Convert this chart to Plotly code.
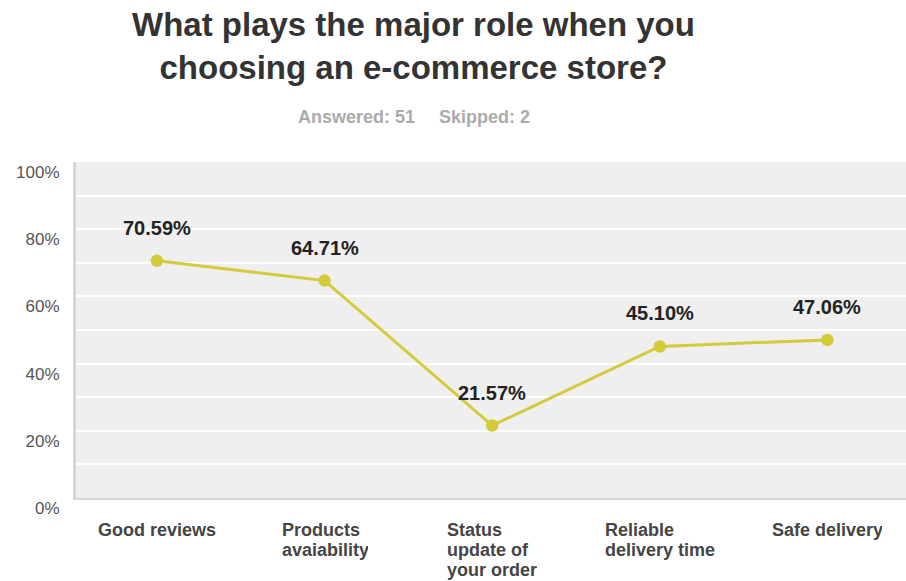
import plotly.graph_objects as go

# Survey results: share of respondents choosing each factor
categories = [
    "Good reviews",
    "Products<br>avaiability",
    "Status<br>update of<br>your order",
    "Reliable<br>delivery time",
    "Safe delivery",
]
percent_values = [70.59, 64.71, 21.57, 45.10, 47.06]
y_tick_values = [0, 20, 40, 60, 80, 100]
y_tick_labels = ["0%", "20%", "40%", "60%", "80%", "100%"]

title_text = "What plays the major role when you<br>choosing an e-commerce store?"
answered_text = "Answered: 51"
skipped_text = "Skipped: 2"

LINE_COLOR = "rgb(211, 203, 58)"
FONT = "Liberation Sans, Arial, Helvetica, sans-serif"

# text-box widths (px) for the category label blocks, so that
# the lines of each block share a common left edge
LABEL_BOX_WIDTH = [118, 86, 90, 110, 110]
LABEL_SIZE = 18
LABEL_PITCH = 20

x_idx = list(range(len(categories)))

fig = go.Figure()
fig.add_trace(
    go.Scatter(
        x=x_idx,
        y=percent_values,
        mode="lines+markers",
        line=dict(color=LINE_COLOR, width=3),
        marker=dict(color=LINE_COLOR, size=12.5),
        hoverinfo="skip",
        showlegend=False,
    )
)

annotations = []

# title
annotations.append(
    dict(
        x=(413 - 76) / 830, y=1.345, xref="paper", yref="paper",
        text=f"<b>{title_text}</b>", showarrow=False,
        xanchor="center", yanchor="middle", align="center",
        font=dict(family=FONT, size=33, color="#333333"),
    )
)

# value labels above each point
for xi, v in zip(x_idx, percent_values):
    annotations.append(
        dict(
            x=xi, y=v, xref="x", yref="y",
            text=f"<b>{v:.2f}%</b>",
            showarrow=False,
            yanchor="middle",
            yshift=33,
            font=dict(family=FONT, size=20, color="#222222"),
        )
    )

# category labels: one annotation per line, left-aligned in a box
# centred under the category
for xi, cat, w in zip(x_idx, categories, LABEL_BOX_WIDTH):
    for k, ln in enumerate(cat.split("<br>")):
        annotations.append(
            dict(
                x=xi, y=0, xref="x", yref="paper",
                text=f"<b>{ln}</b>",
                showarrow=False,
                xanchor="center", yanchor="top",
                align="left", width=w,
                yshift=-20 - k * LABEL_PITCH,
                font=dict(family=FONT, size=LABEL_SIZE, color="#454545"),
            )
        )

# response counts under the title
for txt, px in ((answered_text, 356), (skipped_text, 484)):
    annotations.append(
        dict(
            x=(px - 76) / 830, y=1.134, xref="paper", yref="paper",
            text=f"<b>{txt}</b>", showarrow=False,
            xanchor="center", yanchor="middle",
            font=dict(family=FONT, size=18, color="#ababab"),
        )
    )

fig.update_layout(
    width=906,
    height=581,
    margin=dict(l=76, r=0, t=162, b=83),
    paper_bgcolor="white",
    plot_bgcolor="#efefef",
    annotations=annotations,
    xaxis=dict(
        range=[-0.483, 4.469],
        tickvals=x_idx,
        showticklabels=False,
        showgrid=False,
        zeroline=False,
        showline=True,
        linecolor="#d6d6d6",
        linewidth=2,
        fixedrange=True,
    ),
    yaxis=dict(
        range=[0, 100],
        tickvals=y_tick_values,
        ticktext=y_tick_labels,
        showgrid=True,
        gridcolor="white",
        gridwidth=2,
        minor=dict(dtick=10, showgrid=True, gridcolor="white", gridwidth=2),
        zeroline=False,
        showline=True,
        linecolor="#d6d6d6",
        linewidth=3,
        ticks="",
        ticklabelstandoff=10,
        ticklabelshift=10,
        tickfont=dict(family=FONT, size=17, color="#555555"),
        fixedrange=True,
    ),
)

fig.write_html("out.html")
